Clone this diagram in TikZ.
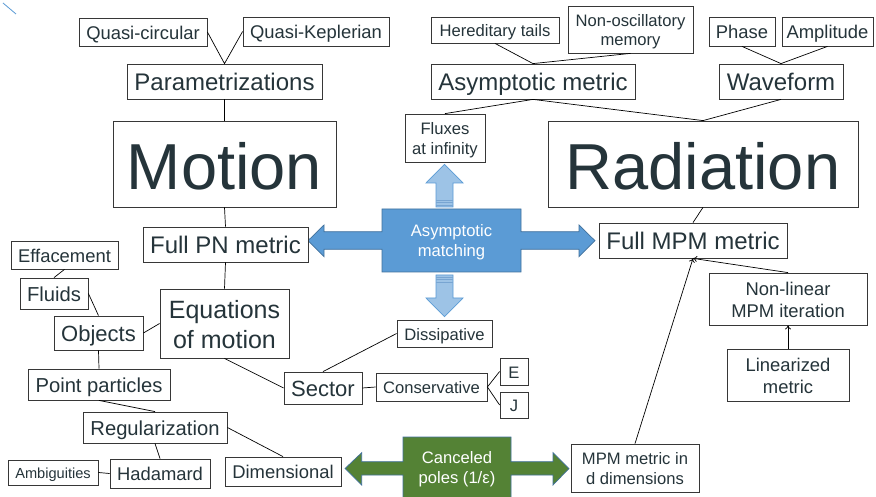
\documentclass[tikz,border=0pt]{standalone}
\usepackage{fontspec}
\setmainfont{Liberation Sans}
\usetikzlibrary{arrows.meta}
\definecolor{txt}{RGB}{37,52,58}
\definecolor{bord}{RGB}{55,55,55}
\definecolor{blueM}{RGB}{91,155,213}
\definecolor{blueB}{RGB}{65,113,156}
\definecolor{blueL}{RGB}{157,195,230}
\definecolor{blueS}{RGB}{120,165,210}
\definecolor{greenM}{RGB}{84,130,53}
\newcommand\fsz[2]{\fontsize{#1}{#2}\selectfont}
\tikzset{
  box/.style={draw=bord, line width=0.8pt, inner sep=0pt, align=center, text=txt, fill=white},
  tA/.style={font={\fsz{14.6}{17.5}}, text height=13.9pt, text depth=2.5pt},
  tB/.style={font={\fsz{16.6}{19.5}}, text height=15.8pt, text depth=2.8pt},
  tBB/.style={font={\fsz{16.6}{19.5}}, text height=35.3pt, text depth=2.8pt},
  tC/.style={font={\fsz{18.4}{22}}, text height=17.5pt, text depth=3.1pt},
  tCC/.style={font={\fsz{18.4}{22}}, text height=39.5pt, text depth=3.1pt},
  tD/.style={font={\fsz{20.2}{24}}, text height=19.2pt, text depth=3.4pt},
  tE/.style={font={\fsz{22}{26}}, text height=20.9pt, text depth=3.7pt},
  tF/.style={font={\fsz{24}{29}}, text height=22.8pt, text depth=4.1pt},
  tGG/.style={font={\fsz{25}{30}}, text height=53.8pt, text depth=4.3pt},
  tH/.style={font={\fsz{65}{78}}, text height=61.8pt, text depth=11.1pt},
  link/.style={draw=black, line width=0.7pt},
  arr/.style={link, -{To[length=4pt,width=6pt]}},
  wtext/.style={inner sep=0pt, align=center, text=white, font={\fsz{16.6}{19.5}}, text height=35.3pt, text depth=2.8pt},
  bigarrow/.style={fill=blueM, draw=blueB, line width=0.7pt, line join=miter},
  lightarrow/.style={fill=blueL, draw=blueM, line width=0.7pt},
  greenarrow/.style={fill=greenM, draw=blueB, line width=0.7pt},
}
\begin{document}
\begin{tikzpicture}[x=1pt,y=-1pt]
\useasboundingbox (0,0) rectangle (876,497);
\fill[white] (0,0) rectangle (876,497);
\draw[blueM, line width=0.8pt] (3,3) -- (16,14);

% Asymptotic matching shape
\path[bigarrow] (382,209) -- (521,209) -- (521,231.7) -- (579,231.7) -- (579,225) -- (595,240.7)
  -- (579,256.7) -- (579,249.3) -- (521,249.3) -- (521,272) -- (382,272) -- (382,249.3)
  -- (324,249.3) -- (324,256.7) -- (308,240.7) -- (324,225) -- (324,231.7) -- (382,231.7) -- cycle;
\node[wtext] (am) at (451.5,240) {Asymptotic\\matching};

% light arrows
\path[lightarrow] (436,207) -- (436,183) -- (426,183) -- (444.5,164.3) -- (463,183) -- (453,183) -- (453,207) -- cycle;
\draw[blueS, line width=0.6pt] (436,200) -- (453,200) (436,202.5) -- (453,202.5) (436,205) -- (453,205);
\path[lightarrow] (436,275) -- (436,298) -- (426,298) -- (444.5,316.7) -- (463,298) -- (453,298) -- (453,275) -- cycle;
\draw[blueS, line width=0.6pt] (436,277) -- (453,277) (436,279.5) -- (453,279.5) (436,282) -- (453,282);

% Canceled poles shape
\path[greenarrow] (403,437) -- (511,437) -- (511,461.7) -- (553,461.7) -- (553,452.7) -- (569,468.5)
  -- (553,485) -- (553,475) -- (511,475) -- (511,497.5) -- (403,497.5) -- (403,475)
  -- (361.7,475) -- (361.7,485) -- (345,468.5) -- (361.7,452.7) -- (361.7,461.7) -- (403,461.7) -- cycle;
\node[wtext] (cp) at (457,467) {Canceled\\poles (1/ε)};

% Nodes
\node[box,tC,minimum width=128pt,minimum height=28pt] (qc) at (143,32) {Quasi-circular};
\node[box,tC,minimum width=146pt,minimum height=29pt] (qk) at (316,31.5) {Quasi-Keplerian};
\node[box,tF,minimum width=195pt,minimum height=35pt] (par) at (224.5,81.5) {Parametrizations};
\node[box,tH,minimum width=223pt,minimum height=86pt] (mot) at (224.5,164) {Motion};
\node[box,tF,minimum width=165pt,minimum height=35pt] (fpn) at (225.5,244.5) {Full PN metric};
\node[box,tC,minimum width=107pt,minimum height=28pt] (eff) at (64.5,255) {Effacement};
\node[box,tD,minimum width=68pt,minimum height=31pt] (flu) at (54,293.5) {Fluids};
\node[box,tE,minimum width=89pt,minimum height=34pt] (obj) at (98.5,333) {Objects};
\node[box,tGG,minimum width=129pt,minimum height=69pt] (eom) at (224.5,323.5) {Equations\\of motion};
\node[box,tD,minimum width=142pt,minimum height=31pt] (pp) at (99,384.5) {Point particles};
\node[box,tE,minimum width=78pt,minimum height=32pt] (sec) at (323,388) {Sector};
\node[box,tB,minimum width=111pt,minimum height=28pt] (con) at (431.5,387) {Conservative};
\node[box,tB,minimum width=28pt,minimum height=27pt] (ee) at (514,371.5) {E};
\node[box,tB,minimum width=28pt,minimum height=26pt] (jj) at (514,405) {J};
\node[box,tB,minimum width=95pt,minimum height=27pt] (dis) at (444.5,333.5) {Dissipative};
\node[box,tD,minimum width=144pt,minimum height=31pt] (reg) at (155,427.5) {Regularization};
\node[box,tA,minimum width=90pt,minimum height=25pt] (amb) at (53,472.5) {Ambiguities};
\node[box,tC,minimum width=100pt,minimum height=29pt] (had) at (160,473.5) {Hadamard};
\node[box,tC,minimum width=116pt,minimum height=29pt] (dim) at (283,471.5) {Dimensional};
\node[box,tBB,minimum width=128pt,minimum height=48pt] (mpmd) at (635,468) {MPM metric in\\d dimensions};
\node[box,tF,minimum width=188pt,minimum height=35pt] (fmpm) at (693,240.5) {Full MPM metric};
\node[box,tCC,minimum width=158pt,minimum height=52pt] (nl) at (788,299) {Non-linear\\MPM iteration};
\node[box,tCC,minimum width=122pt,minimum height=52pt] (lin) at (788,375) {Linearized\\metric};
\node[box,tH,minimum width=310pt,minimum height=86pt] (rad) at (703,164) {Radiation};
\node[box,tBB,minimum width=80pt,minimum height=48pt] (flx) at (445,138) {Fluxes\\at infinity};
\node[box,tF,minimum width=204pt,minimum height=35pt] (asm) at (533,81.5) {Asymptotic metric};
\node[box,tB,minimum width=128pt,minimum height=26pt] (her) at (495,30) {Hereditary tails};
\node[box,tBB,minimum width=125pt,minimum height=47pt] (nom) at (630.5,29.5) {Non-oscillatory\\memory};
\node[box,tC,minimum width=66pt,minimum height=29pt] (pha) at (742,31.5) {Phase};
\node[box,tC,minimum width=91pt,minimum height=29pt] (amp) at (827.5,31.5) {Amplitude};
\node[box,tF,minimum width=124pt,minimum height=35pt] (wav) at (781,81.5) {Waveform};

% Connectors
\draw[link] (qc.east) -- (par.north) -- (qk.west);
\draw[link] (par.south) -- (mot.north);
\draw[link] (mot.south) -- (fpn.north);
\draw[link] (fpn.south) -- (eom.north);
\draw[link] (eff.south) -- (flu.north);
\draw[link] (flu.east) -- (obj.north);
\draw[link] (obj.east) -- (eom.west);
\draw[link] (obj.south) -- (pp.north);
\draw[link] (pp.south) -- (reg.north);
\draw[link] (reg.south) -- (had.north);
\draw[link] (reg.east) -- (dim.north);
\draw[link] (amb.east) -- (had.west);
\draw[link] (eom.south) -- (sec.west);
\draw[link] (sec.north) -- (dis.west);
\draw[link] (sec.east) -- (con.west);
\draw[link] (ee.west) -- (con.east) -- (jj.west);
\draw[arr] (mpmd.north) -- (fmpm.south);
\draw[arr] (nl.north) -- (fmpm.south);
\draw[arr] (lin.north) -- (nl.south);
\draw[link] (rad.south) -- (fmpm.north);
\draw[link] (flx.north) -- (asm.south) -- (rad.north) -- (wav.south);
\draw[link] (her.south) -- (asm.north) -- (nom.south);
\draw[link] (pha.south) -- (wav.north) -- (amp.south);
\end{tikzpicture}
\end{document}
